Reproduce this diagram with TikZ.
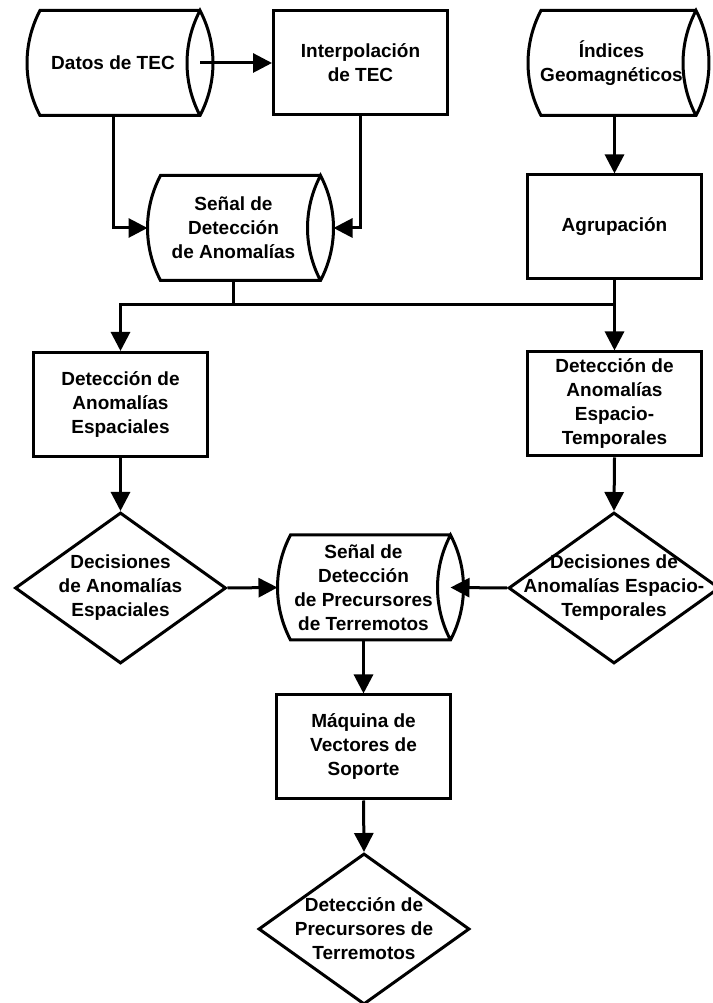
\documentclass[tikz,border=0pt]{standalone}
\usepackage{fontspec}
\setmainfont{Liberation Sans}
\usetikzlibrary{shapes.geometric,arrows.meta}

\tikzset{
  txt/.style={font=\bfseries\fontsize{19}{24}\selectfont, align=center},
  proc/.style={txt, draw, rectangle, fill=white, minimum width=174pt, minimum height=104pt, inner sep=2pt},
  store/.style={rectangle, minimum width=160pt, minimum height=105pt, inner sep=0pt, outer sep=0pt,
    label={[txt,xshift=-7pt]center:{#1}}},
  decision/.style={draw, diamond, fill=white, minimum width=211pt, minimum height=151pt, inner sep=0pt,
    label={[txt]center:{#1}}},
  arr/.style={-{Triangle[length=19pt,width=19pt]}},
}

% outline of a stored-data drum round a store node
\newcommand\storeoutline[1]{%
  \draw (#1.north east) -- (#1.north west)
        arc[start angle=152.2, end angle=207.8, radius=112.5pt] -- (#1.south east)
        arc[start angle=-27.8, end angle=27.8, radius=112.5pt]
        arc[start angle=152.2, end angle=207.8, radius=112.5pt];}

\begin{document}
\begin{tikzpicture}[x=1pt,y=1pt,line width=3pt]
\useasboundingbox (0,0) rectangle (712,1003);

%---------------------------------------------------
\node[store={Datos de TEC}] (dat) at (120,940) {};
\node[proc] (interp) at (360.5,940) {Interpolación\\de TEC};
\node[store={Índices\\Geomagnéticos}, minimum width=155pt] (idx) at (618.5,940) {};
\node[proc] (agrup) at (614.5,776) {Agrupación};
\node[store={Señal de\\Detección\\de Anomalías}] (sda) at (240.5,775) {};
\storeoutline{dat}
\storeoutline{idx}
\storeoutline{sda}

%---------------------------------------------------
\node[proc] (espac) at (120.5,598.5) {Detección de\\Anomalías\\Espaciales};
\node[proc] (espt) at (614.5,599) {Detección de\\Anomalías\\Espacio-\\Temporales};
\node[decision={Decisiones\\de Anomalías\\Espaciales}] (dl) at (120.5,415) {};
\node[decision={Decisiones de\\Anomalías Espacio-\\Temporales}] (dr) at (614,415) {};
\node[store={Señal de\\Detección\\de Precursores\\de Terremotos}] (sdp) at (370.5,415.5) {};
\storeoutline{sdp}

%---------------------------------------------------
\node[proc] (svm) at (363.5,256) {Máquina de\\Vectores de\\Soporte};
\node[decision={Detección de\\Precursores de\\Terremotos}] (fin) at (364,74) {};

%---------------------------------------------------
\draw[arr] (dat.east) -- (interp.west);
\draw[arr] ([xshift=-7pt]dat.south) |- ([xshift=-13pt]sda.west);
\draw[arr] (interp.south) |- ([xshift=13pt]sda.east);
\draw[arr] (idx.south -| agrup.north) -- (agrup.north);
\draw ([xshift=-7pt]sda.south) -- ++(0,-24) coordinate (bus);
\draw[arr] (bus) -| (espac.north);
\draw (bus) -| (agrup.south);
\draw[arr] (agrup.south) -- (espt.north);
\draw[arr] (espac.south) -- (dl.north);
\draw[arr] (espt.south) -- (dr.north);
\draw[arr] (dl.east) -- ([xshift=-13pt]sdp.west);
\draw[arr] (dr.west) -- (sdp.east);
\draw[arr] (sdp.south -| svm.north) -- (svm.north);
\draw[arr] (svm.south) -- (fin.north);
\end{tikzpicture}
\end{document}
